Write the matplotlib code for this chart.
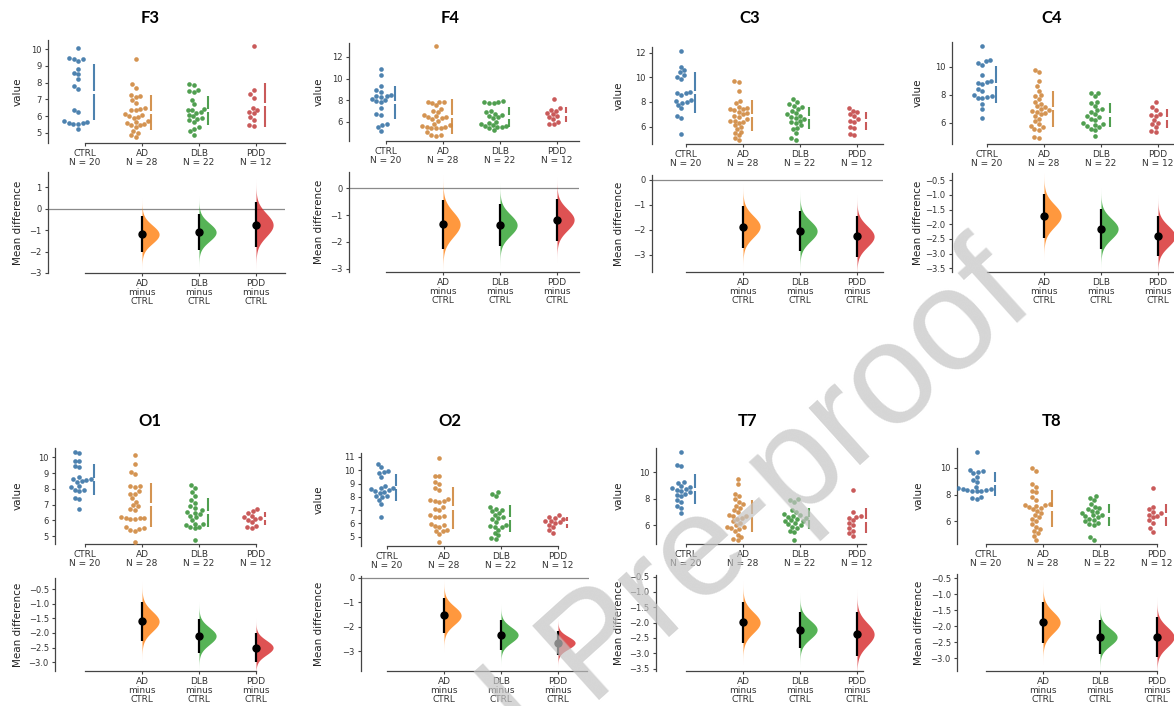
import numpy as np
import matplotlib
matplotlib.use("Agg")
import matplotlib.pyplot as plt

GROUPS = ["CTRL", "AD", "DLB", "PDD"]
COLORS = ["#1f77b4", "#ff7f0e", "#2ca02c", "#d62728"]
DOT_COLORS = ["#3a74a6", "#d0883f", "#3d953d", "#c44848"]

# ---- EEG channel values per group ----
f3_ctrl = [10.05, 9.45, 9.4, 9.4, 9.3, 8.8, 8.6, 8.5, 8.2, 7.8, 7.65, 6.4, 6.25, 5.7, 5.68, 5.6, 5.55, 5.55, 5.6, 5.25]
f3_ad = [9.4, 7.9, 7.7, 7.25, 7.2, 7.15, 6.95, 6.8, 6.5, 6.45, 6.4, 6.35, 6.15, 6.1, 6.0, 5.95, 5.9, 5.7, 5.65, 5.6, 5.55, 5.5, 5.45, 5.35, 5.1, 5.0, 4.85, 4.75]
f3_dlb = [7.9, 7.85, 7.55, 7.5, 7.45, 6.95, 6.7, 6.45, 6.4, 6.35, 6.25, 6.2, 6.1, 6.0, 5.9, 5.85, 5.75, 5.65, 5.35, 5.25, 5.1, 4.9]
f3_pdd = [10.2, 7.55, 7.3, 7.1, 6.5, 6.4, 6.25, 6.2, 5.95, 5.8, 5.45, 5.4]

f4_ctrl = [10.85, 10.3, 9.3, 8.9, 8.75, 8.45, 8.4, 8.35, 8.3, 8.1, 8.0, 7.9, 7.85, 7.25, 6.75, 6.6, 5.8, 5.65, 5.5, 5.15]
f4_ad = [13.0, 7.85, 7.8, 7.8, 7.75, 7.5, 7.2, 7.0, 6.9, 6.6, 6.5, 6.45, 6.4, 6.3, 6.2, 6.1, 5.8, 5.7, 5.55, 5.5, 5.5, 5.45, 5.4, 5.4, 5.0, 4.8, 4.8, 4.7]
f4_dlb = [7.9, 7.85, 7.8, 7.75, 7.7, 7.0, 6.85, 6.7, 6.6, 6.5, 6.4, 6.3, 6.0, 5.9, 5.8, 5.7, 5.6, 5.6, 5.5, 5.5, 5.4, 5.2]
f4_pdd = [8.1, 7.25, 7.1, 7.0, 6.8, 6.7, 6.5, 6.4, 6.2, 6.0, 5.8, 5.75]

c3_ctrl = [12.1, 10.85, 10.6, 10.4, 10.2, 10.0, 9.9, 8.8, 8.75, 8.7, 8.6, 8.2, 8.1, 8.0, 7.9, 7.75, 7.5, 6.9, 6.7, 5.4]
c3_ad = [9.7, 9.6, 8.9, 8.1, 7.9, 7.6, 7.5, 7.45, 7.4, 7.35, 7.2, 7.1, 7.0, 6.9, 6.8, 6.6, 6.5, 6.5, 6.4, 6.3, 6.1, 6.0, 5.8, 5.6, 5.5, 5.3, 5.1, 4.9]
c3_dlb = [8.25, 8.0, 7.8, 7.7, 7.6, 7.45, 7.3, 7.1, 7.0, 6.9, 6.8, 6.7, 6.6, 6.5, 6.4, 6.3, 6.1, 5.9, 5.8, 5.5, 5.1, 4.95]
c3_pdd = [7.5, 7.3, 7.2, 7.0, 6.9, 6.6, 6.5, 6.4, 6.0, 5.9, 5.4, 5.3]

c4_ctrl = [11.45, 10.45, 10.4, 10.25, 10.15, 9.4, 8.95, 8.9, 8.85, 8.75, 8.4, 8.3, 8.0, 7.9, 7.85, 7.8, 7.75, 7.35, 7.0, 6.35]
c4_ad = [9.75, 9.6, 9.0, 8.6, 8.3, 8.0, 7.9, 7.7, 7.5, 7.35, 7.2, 7.1, 7.0, 6.9, 6.85, 6.8, 6.7, 6.6, 6.5, 6.3, 6.1, 5.9, 5.8, 5.7, 5.6, 5.5, 5.0, 4.9]
c4_dlb = [8.15, 8.1, 7.9, 7.5, 7.4, 7.2, 7.0, 6.9, 6.75, 6.6, 6.5, 6.4, 6.3, 6.2, 6.0, 5.9, 5.85, 5.8, 5.7, 5.6, 5.5, 5.05]
c4_pdd = [7.5, 7.1, 6.9, 6.6, 6.55, 6.5, 6.2, 6.0, 5.9, 5.7, 5.4, 5.35]

o1_ctrl = [10.35, 10.3, 9.8, 9.75, 9.45, 9.4, 8.75, 8.65, 8.6, 8.55, 8.5, 8.45, 8.2, 8.1, 7.95, 7.9, 7.85, 7.45, 7.35, 6.7]
o1_ad = [10.15, 9.6, 9.05, 8.95, 8.2, 8.2, 8.15, 7.85, 7.7, 7.65, 7.4, 7.2, 6.95, 6.9, 6.7, 6.65, 6.2, 6.15, 6.15, 6.15, 6.1, 6.1, 5.55, 5.5, 5.45, 5.4, 5.35, 4.6]
o1_dlb = [8.25, 8.05, 7.8, 7.55, 7.3, 7.1, 6.9, 6.8, 6.65, 6.55, 6.5, 6.4, 6.3, 6.2, 6.05, 5.8, 5.75, 5.7, 5.6, 5.55, 5.5, 4.75]
o1_pdd = [6.75, 6.6, 6.5, 6.3, 6.2, 6.15, 6.1, 6.05, 5.9, 5.65, 5.55, 5.5]

o2_ctrl = [10.5, 10.25, 9.95, 9.85, 9.8, 9.5, 8.8, 8.7, 8.65, 8.6, 8.5, 8.45, 8.4, 8.3, 8.1, 8.05, 8.0, 7.75, 7.45, 6.5]
o2_ad = [10.9, 9.6, 9.55, 9.1, 8.95, 8.65, 8.5, 7.8, 7.75, 7.7, 7.65, 7.6, 7.2, 7.05, 7.0, 6.6, 6.55, 6.5, 6.45, 5.95, 5.9, 5.8, 5.75, 5.5, 5.45, 5.4, 5.2, 4.6]
o2_dlb = [8.4, 8.25, 8.1, 7.2, 7.05, 7.0, 6.9, 6.75, 6.6, 6.5, 6.4, 6.3, 6.1, 5.9, 5.8, 5.75, 5.7, 5.5, 5.3, 5.1, 4.9, 4.8]
o2_pdd = [6.6, 6.5, 6.4, 6.3, 6.2, 6.15, 6.1, 6.0, 5.9, 5.7, 5.5, 5.3]

t7_ctrl = [11.55, 10.55, 10.5, 9.3, 9.2, 9.0, 8.9, 8.8, 8.75, 8.7, 8.6, 8.5, 8.4, 8.3, 8.2, 7.9, 7.8, 7.45, 7.35, 6.95]
t7_ad = [9.5, 9.1, 8.4, 8.2, 8.0, 7.8, 7.6, 7.5, 7.3, 7.2, 7.0, 6.8, 6.75, 6.7, 6.6, 6.5, 6.3, 6.2, 6.0, 5.9, 5.85, 5.8, 5.75, 5.6, 5.3, 5.1, 5.0, 4.9]
t7_dlb = [8.0, 7.9, 7.8, 7.2, 7.0, 6.9, 6.8, 6.7, 6.65, 6.6, 6.5, 6.4, 6.35, 6.3, 6.2, 6.1, 6.0, 5.9, 5.8, 5.6, 5.5, 4.9]
t7_pdd = [8.7, 7.0, 6.7, 6.65, 6.6, 6.4, 6.2, 6.0, 5.8, 5.6, 5.4, 5.2]

t8_ctrl = [11.2, 9.85, 9.75, 9.7, 9.6, 9.35, 9.1, 8.95, 8.6, 8.5, 8.45, 8.4, 8.35, 8.35, 8.3, 8.3, 8.25, 7.8, 7.75, 7.7]
t8_ad = [10.0, 9.8, 8.8, 8.6, 8.3, 8.2, 7.8, 7.6, 7.3, 7.25, 7.2, 7.15, 7.1, 7.0, 6.9, 6.8, 6.6, 6.5, 6.3, 6.2, 6.0, 5.8, 5.6, 5.4, 5.3, 5.1, 4.9, 4.6]
t8_dlb = [7.9, 7.75, 7.6, 7.3, 7.1, 7.0, 6.9, 6.8, 6.7, 6.6, 6.5, 6.45, 6.4, 6.3, 6.2, 6.1, 6.0, 5.9, 5.8, 5.7, 4.8, 4.6]
t8_pdd = [8.5, 7.1, 6.9, 6.7, 6.6, 6.5, 6.4, 6.3, 6.1, 5.9, 5.5, 5.2]

CHANNELS = {
    "F3": [f3_ctrl, f3_ad, f3_dlb, f3_pdd],
    "F4": [f4_ctrl, f4_ad, f4_dlb, f4_pdd],
    "C3": [c3_ctrl, c3_ad, c3_dlb, c3_pdd],
    "C4": [c4_ctrl, c4_ad, c4_dlb, c4_pdd],
    "O1": [o1_ctrl, o1_ad, o1_dlb, o1_pdd],
    "O2": [o2_ctrl, o2_ad, o2_dlb, o2_pdd],
    "T7": [t7_ctrl, t7_ad, t7_dlb, t7_pdd],
    "T8": [t8_ctrl, t8_ad, t8_dlb, t8_pdd],
}

# ---- panel geometry (pixels) ----
W, H = 1174, 706
STEP = 57.0
LAYOUT = {
    "F3": dict(left=48, ctrl=85, right=3.5, top=(40, 143), low=(172, 273),
               top_ylim=(4.4, 10.55), low_ylim=(-3.0, 1.7),
               top_ticks=[5, 6, 7, 8, 9, 10], low_ticks=[1, 0, -1, -2, -3],
               title=(150, 18), ylab=18, top_end=3.5, low_end=3.5),
    "F4": dict(left=349, ctrl=386, right=3.39, top=(43, 141), low=(172, 272),
               top_ylim=(4.2, 13.3), low_ylim=(-3.12, 0.6),
               top_ticks=[6, 8, 10, 12], low_ticks=[0, -1, -2, -3],
               title=(450, 18), ylab=319, top_end=3.39, low_end=3.39),
    "C3": dict(left=652, ctrl=686, right=3.45, top=(47, 144), low=(175, 272),
               top_ylim=(4.6, 12.45), low_ylim=(-3.7, 0.2),
               top_ticks=[6, 8, 10, 12], low_ticks=[0, -1, -2, -3],
               title=(750, 18), ylab=619, top_end=3.45, low_end=3.45),
    "C4": dict(left=952, ctrl=987, right=3.5, top=(42, 144), low=(173, 272),
               top_ylim=(4.5, 11.75), low_ylim=(-3.62, -0.26),
               top_ticks=[6, 8, 10], low_ticks=[-0.5, -1.0, -1.5, -2.0, -2.5, -3.0, -3.5],
               title=(1052, 18), ylab=918, top_end=3.5, low_end=3.5),
    "O1": dict(left=55, ctrl=85, right=3.5, top=(448, 544), low=(578, 671),
               top_ylim=(4.5, 10.6), low_ylim=(-3.3, -0.12),
               top_ticks=[5, 6, 7, 8, 9, 10], low_ticks=[-0.5, -1.0, -1.5, -2.0, -2.5, -3.0],
               title=(150, 421), ylab=18, top_end=3.0, low_end=3.0),
    "O2": dict(left=361, ctrl=387, right=3.55, top=(453, 546), low=(576, 671),
               top_ylim=(4.3, 11.3), low_ylim=(-3.8, 0.07),
               top_ticks=[5, 6, 7, 8, 9, 10, 11], low_ticks=[0, -1, -2, -3],
               title=(450, 421), ylab=319, top_end=3.0, low_end=3.5),
    "T7": dict(left=656, ctrl=686, right=3.5, top=(448, 544), low=(575, 671),
               top_ylim=(4.6, 11.85), low_ylim=(-3.58, -0.45),
               top_ticks=[6, 8, 10], low_ticks=[-0.5, -1.0, -1.5, -2.0, -2.5, -3.0, -3.5],
               title=(748, 421), ylab=619, top_end=3.15, low_end=3.1),
    "T8": dict(left=957, ctrl=986, right=3.5, top=(448, 544), low=(574, 671),
               top_ylim=(4.3, 11.5), low_ylim=(-3.4, -0.37),
               top_ticks=[6, 8, 10], low_ticks=[-0.5, -1.0, -1.5, -2.0, -2.5, -3.0],
               title=(1052, 421), ylab=919, top_end=3.0, low_end=3.0),
}

SPINE = "#444444"
plt.rcParams["font.family"] = "DejaVu Sans"

fig = plt.figure(figsize=(W / 100, H / 100), dpi=100)


def px_axes(x0, x1, y0, y1):
    return fig.add_axes([x0 / W, 1 - y1 / H, (x1 - x0) / W, (y1 - y0) / H])


def style(ax, end):
    for s in ("top", "right"):
        ax.spines[s].set_visible(False)
    for s in ("left", "bottom"):
        ax.spines[s].set_color(SPINE)
        ax.spines[s].set_linewidth(0.9)
    ax.tick_params(axis="y", labelsize=6, length=2.5, width=0.8, color=SPINE,
                   labelcolor="#333333", pad=2)
    ax.tick_params(axis="x", labelsize=6.5, length=2.5, width=0.8, color=SPINE,
                   labelcolor="#333333", pad=1.5)
    ax.spines["bottom"].set_bounds(0, end)


def swarm(ax, values, diam_px):
    """Beeswarm offsets (data units along x) so markers do not overlap."""
    tr = ax.transData
    ys = np.array([tr.transform((0, v))[1] for v in values])
    order = np.argsort(ys)
    placed = []
    offs = np.zeros(len(values))
    d = diam_px
    for i in order:
        y = ys[i]
        near = [(px, py) for px, py in placed if abs(py - y) < d]
        cands = [0.0]
        for px, py in near:
            dx = np.sqrt(d * d - (py - y) ** 2)
            cands += [px - dx, px + dx]
        cands.sort(key=abs)
        for c in cands:
            if all((c - px) ** 2 + (y - py) ** 2 >= d * d - 1e-6 for px, py in near):
                break
        placed.append((c, y))
        offs[i] = c
    ppu = tr.transform((1, 0))[0] - tr.transform((0, 0))[0]
    return offs / ppu


for name, groups in CHANNELS.items():
    L = LAYOUT[name]
    xlo = (L["left"] - L["ctrl"]) / STEP
    x0 = L["left"]
    x1 = L["ctrl"] + L["right"] * STEP
    lab_x = (L["ylab"] + 5 - x0) / (x1 - x0)

    # ---- raw data swarm ----
    ax = px_axes(x0, x1, *L["top"])
    ax.set_xlim(xlo, L["right"])
    ax.set_ylim(*L["top_ylim"])
    ypp = (L["top"][1] - L["top"][0]) / (L["top_ylim"][1] - L["top_ylim"][0])
    for i, vals in enumerate(groups):
        v = np.asarray(vals, float)
        offs = swarm(ax, v, 4.7)
        half = np.max(np.abs(offs))
        ax.scatter(i - 0.5 * half + offs, v, s=11, color=DOT_COLORS[i],
                   alpha=0.9, linewidths=0, zorder=3)
        m, sd = v.mean(), v.std(ddof=1)
        gap = 1.6 / ypp
        xb = i + 0.15
        for ya, yb in ((m - sd, m - gap), (m + gap, m + sd)):
            ax.plot([xb, xb], [ya, yb], color=DOT_COLORS[i], lw=1.5, alpha=0.9,
                    solid_capstyle="butt")
    ax.set_xticks(range(4))
    ax.set_xticklabels([f"{g}\nN = {len(v)}" for g, v in zip(GROUPS, groups)],
                       linespacing=1.1)
    ax.set_yticks(L["top_ticks"])
    style(ax, L["top_end"])
    ax.set_ylabel("value", fontsize=7.5, color="#222222")
    ax.yaxis.set_label_coords(lab_x, 0.5)

    # ---- mean difference vs control ----
    bx = px_axes(x0, x1, *L["low"])
    bx.set_xlim(xlo, L["right"])
    bx.set_ylim(*L["low_ylim"])
    lo, hi = L["low_ylim"]
    if lo < 0 < hi:
        bx.axhline(0, color="#8a8a8a", lw=0.9, zorder=1)
    ctrl = np.asarray(groups[0], float)
    for i in range(1, 4):
        v = np.asarray(groups[i], float)
        md = v.mean() - ctrl.mean()
        se = np.sqrt(v.var(ddof=1) / len(v) + ctrl.var(ddof=1) / len(ctrl))
        yy = np.linspace(md - 4 * se, md + 4 * se, 200)
        dens = np.exp(-0.5 * ((yy - md) / se) ** 2)
        bx.fill_betweenx(yy, i, i + 0.3 * dens, color=COLORS[i], alpha=0.8,
                         linewidth=0, zorder=2)
        bx.plot([i, i], [md - 1.96 * se, md + 1.96 * se], color="black", lw=1.6,
                zorder=3, solid_capstyle="butt")
        bx.plot([i], [md], "o", color="black", ms=5, zorder=4)
    bx.set_xticks([1, 2, 3])
    bx.set_xticklabels([f"{g}\nminus\nCTRL" for g in GROUPS[1:]], linespacing=1.05)
    bx.set_yticks(L["low_ticks"])
    style(bx, L["low_end"])
    bx.set_ylabel("Mean difference", fontsize=7.5, color="#222222")
    bx.yaxis.set_label_coords(lab_x, 0.5)

    fig.text(L["title"][0] / W, 1 - L["title"][1] / H, name, ha="center",
             va="center", fontsize=12, fontweight="bold", family="Lato")

# journal watermark across the sheet
fig.text(1038 / W, 1 - 305 / H, "Journal Pre-proof", rotation=42,
         rotation_mode="anchor", ha="right", va="baseline", fontsize=104,
         family="Liberation Sans", color="#c4c4c4", alpha=0.7, zorder=10)

fig.savefig("out.png", dpi=100)
